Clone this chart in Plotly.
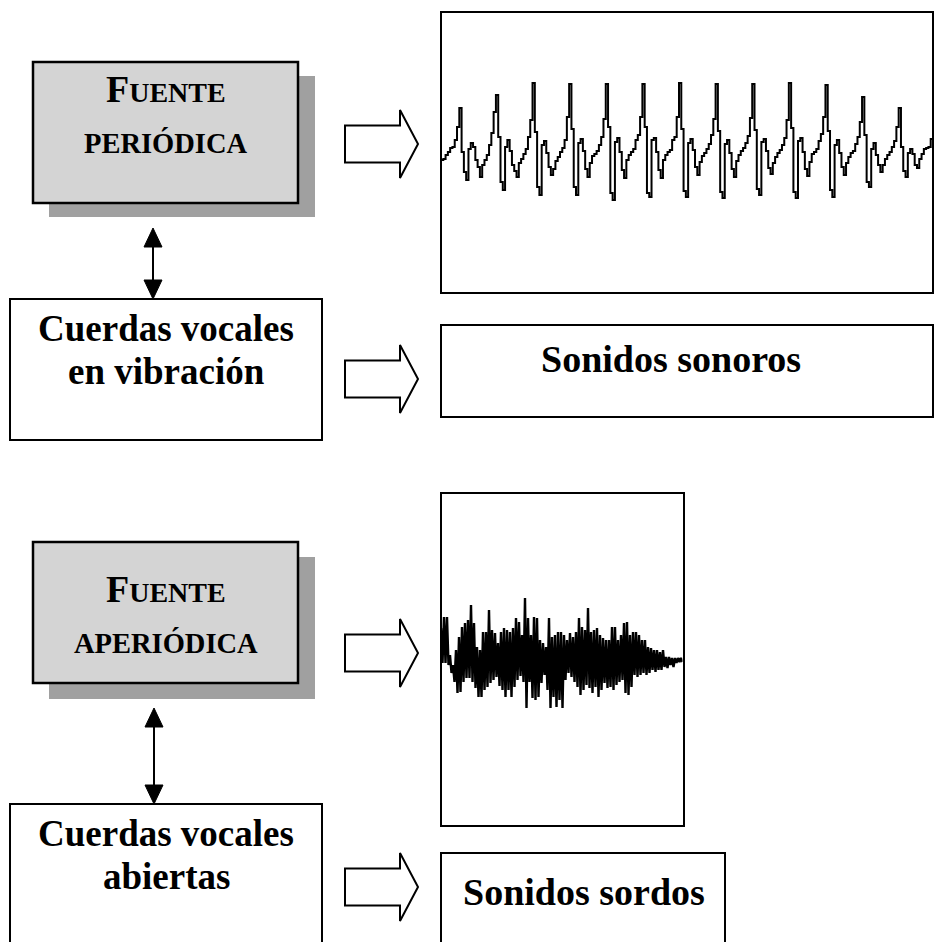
import plotly.graph_objects as go

W, H = 934, 942

# ---- data ----
# voiced (periodic) waveform: samples, height above baseline (px units)
voiced_wave = [
    -3, -2, 2, 5, 9, 10, 17, 30,
    49, 5, -15, -23, 8, 14, 10, -3, -10, -20, -8, -3, 2, 12, 24, 45,
    62, 20, -25, -33, 10, 17, 6, -8, -14, -20, -6, -2, 3, 8, 20, 37,
    74, 25, -30, -38, 12, 16, 4, -10, -18, -12, -4, 0, 5, 9, 17, 40,
    73, 28, -30, -38, 14, 18, 6, -12, -20, -6, 1, 3, 6, 12, 20, 38,
    73, 30, -36, -43, 15, 19, 5, -13, -21, -3, 2, 5, 8, 17, 22, 40,
    73, 30, -36, -40, 17, 19, 5, -13, -21, -3, 2, 5, 7, 17, 20, 40,
    74, 28, -34, -40, 14, 18, 7, -10, -18, -5, 1, 4, 8, 13, 22, 38,
    73, 26, -35, -41, 13, 17, 4, -12, -20, -4, 2, 6, 9, 14, 21, 39,
    73, 27, -32, -38, 15, 18, 6, -11, -17, -6, 0, 4, 7, 12, 19, 37,
    74, 29, -35, -41, 16, 19, 5, -12, -19, -5, 3, 5, 8, 16, 23, 40,
    72, 26, -33, -40, 12, 17, 4, -10, -18, -6, 0, 4, 6, 13, 20, 35,
    60, 22, -25, -30, 8, 14, 2, -8, -15, -8, -2, 2, 5, 10, 16, 30,
    49, 10, -14, -20, 4, 8, 3, -8, -11, -2, 3, 8, 9, 10, 18, 34,
]

# unvoiced (aperiodic) noise burst: upper and lower excursions
noise_upper = [
    32, 43, 43, 5, -5, 10, 23, 33, 37, 40, 55, 37, 13, 10, 28, 28, 50, 30, 27, 17,
    28, 32, 30, 28, 32, 42, 38, 25, 62, 42, 25, 43, 42, 20, 17, 13, 42, 23, 25, 28,
    28, 25, 20, 27, 23, 28, 42, 33, 30, 52, 28, 30, 32, 25, 22, 20, 20, 33, 33, 20,
    25, 37, 38, 25, 28, 28, 25, 20, 20, 13, 12, 10, 10, 8, 10, 3, 3, 2, 2, 2, 2,
]
noise_lower = [
    -3, -3, -5, -13, -22, -33, -32, -22, -18, -18, -22, -28, -37, -37, -30, -27, -23, -20, -17, -26,
    -30, -37, -30, -37, -27, -20, -16, -22, -48, -22, -38, -40, -37, -23, -15, -30, -48, -37, -47, -40,
    -48, -20, -13, -17, -22, -27, -35, -30, -25, -28, -33, -27, -37, -30, -23, -28, -27, -30, -25, -22,
    -20, -33, -35, -27, -15, -17, -15, -13, -15, -13, -10, -12, -10, -10, -7, -8, -5, -7, -3, -2, -2,
]

source_titles = [("F", "UENTE", "PERIÓDICA"), ("F", "UENTE", "APERIÓDICA")]
cord_lines = [("Cuerdas vocales", "en vibración"), ("Cuerdas vocales", "abiertas")]
sound_labels = ["Sonidos sonoros", "Sonidos sordos"]

noise_wave = []
for u, l in zip(noise_upper, noise_lower):
    noise_wave.extend([u, l])

FONT = "Liberation Serif"
fig = go.Figure()

fig.add_trace(go.Scatter(
    x=list(range(len(voiced_wave))), y=voiced_wave, mode="lines",
    line=dict(color="black", width=2, shape="hv"),
    xaxis="x2", yaxis="y2", hoverinfo="skip", showlegend=False))
fig.add_trace(go.Scatter(
    x=list(range(len(noise_wave))), y=noise_wave, mode="lines",
    line=dict(color="black", width=2.4),
    xaxis="x3", yaxis="y3", hoverinfo="skip", showlegend=False))

shapes = []

def rect(x0, y0, x1, y1, fill="rgba(0,0,0,0)", lw=2, lc="black"):
    shapes.append(dict(type="rect", xref="x", yref="y", x0=x0, y0=y0, x1=x1, y1=y1,
                       fillcolor=fill, line=dict(color=lc, width=lw)))

def hollow_arrow(yc):
    p = (f"M 345,{yc-18.5} L 400,{yc-18.5} L 400,{yc-34} L 418,{yc} "
         f"L 400,{yc+34} L 400,{yc+18.5} L 345,{yc+18.5} Z")
    shapes.append(dict(type="path", xref="x", yref="y", path=p,
                       fillcolor="white", line=dict(color="black", width=2)))

def double_arrow(x, ytop, ybot):
    hh, hw = 19, 9
    shapes.append(dict(type="line", xref="x", yref="y", x0=x, x1=x, y0=ytop + hh - 2,
                       y1=ybot - hh + 2, line=dict(color="black", width=2)))
    shapes.append(dict(type="path", xref="x", yref="y",
                       path=f"M {x},{ytop} L {x+hw},{ytop+hh} L {x-hw},{ytop+hh} Z",
                       fillcolor="black", line=dict(color="black", width=1)))
    shapes.append(dict(type="path", xref="x", yref="y",
                       path=f"M {x},{ybot} L {x+hw},{ybot-hh} L {x-hw},{ybot-hh} Z",
                       fillcolor="black", line=dict(color="black", width=1)))

# section 1
rect(49, 76, 315, 217, fill="#a0a0a0", lw=0, lc="#a0a0a0")
rect(33, 62, 298, 203, fill="#d4d4d4", lw=2.5)
double_arrow(153, 228, 299)
rect(10, 299, 322, 440, lw=2)
rect(441, 12, 933, 293, lw=2)
rect(441, 325, 933, 417, lw=2)
hollow_arrow(144)
hollow_arrow(379)

# section 2
rect(49, 557, 315, 699, fill="#a0a0a0", lw=0, lc="#a0a0a0")
rect(33, 542, 298, 683, fill="#d4d4d4", lw=2.5)
double_arrow(154, 708, 804)
rect(10, 804, 322, 948, lw=2)
rect(441, 493, 684, 826, lw=2)
rect(441, 853, 725, 948, lw=2)
hollow_arrow(653)
hollow_arrow(887)

ann = []

def text(x, y, s, size=37):
    ann.append(dict(x=x, y=y, xref="x", yref="y", text=s, showarrow=False,
                    xanchor="center", yanchor="middle",
                    font=dict(family=FONT, size=size, color="black", weight="bold")))

for (big, small, second), ybase in zip(source_titles, [101.5, 601.5]):
    text(165.5, ybase - 12.5, f'<span style="font-size:38px">{big}</span>{small}', size=28)
    text(165.5, ybase + 41.5, second, size=28.5)

for (l1, l2), top in zip(cord_lines, [299, 804]):
    text(166, top + 29, l1)
    text(166, top + 72, l2)

text(671, 359, sound_labels[0], size=38)
text(584, 892, sound_labels[1], size=38)

ax_off = dict(visible=False, showgrid=False, zeroline=False, fixedrange=True)
fig.update_layout(
    width=W, height=H, margin=dict(l=0, r=0, t=0, b=0),
    paper_bgcolor="white", plot_bgcolor="white",
    shapes=shapes, annotations=ann, showlegend=False,
    xaxis=dict(range=[0, W], domain=[0, 1], **ax_off),
    yaxis=dict(range=[H, 0], domain=[0, 1], **ax_off),
    xaxis2=dict(range=[0, len(voiced_wave) - 1], domain=[441 / W, 933 / W], anchor="y2", **ax_off),
    yaxis2=dict(range=[-136, 145], domain=[1 - 293 / H, 1 - 12 / H], anchor="x2", **ax_off),
    xaxis3=dict(range=[0, len(noise_wave) - 1], domain=[441 / W, 682.5 / W], anchor="y3", **ax_off),
    yaxis3=dict(range=[-166, 167], domain=[1 - 826 / H, 1 - 493 / H], anchor="x3", **ax_off),
)

fig.write_html("out.html", config={"displayModeBar": False},
               post_script="document.body.style.margin='0';document.body.style.padding='0';")
